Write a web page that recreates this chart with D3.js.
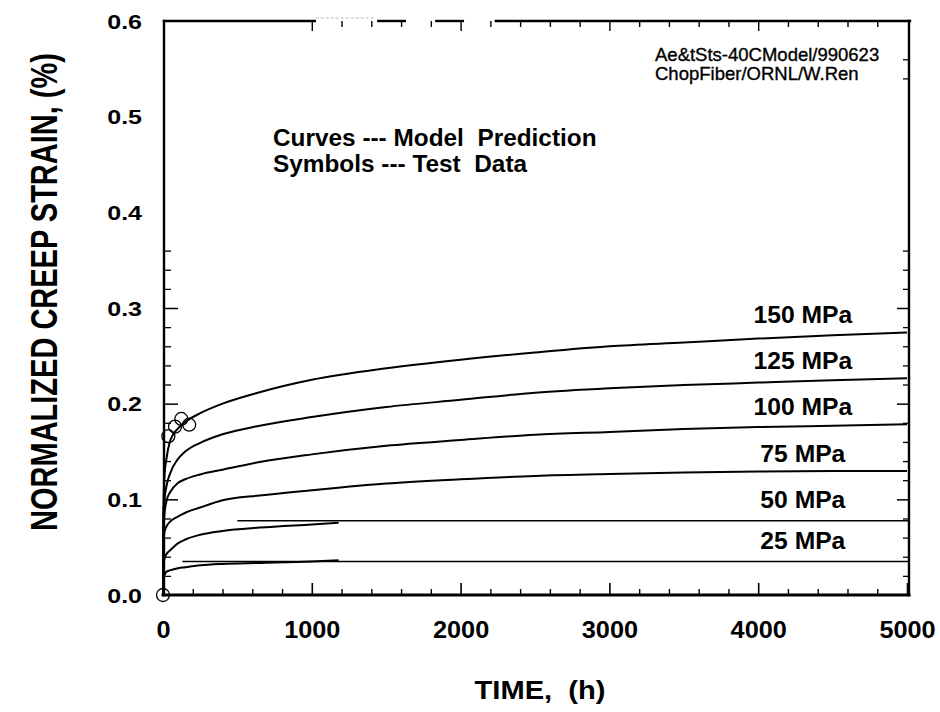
<!DOCTYPE html>
<html>
<head>
<meta charset="utf-8">
<script src="https://cdn.jsdelivr.net/npm/d3@7"></script>
<style>
  html, body { margin: 0; padding: 0; background: #fff; }
  svg { display: block; }
  text { font-family: "Liberation Sans", Arial, Helvetica, sans-serif; fill: #000; }
</style>
</head>
<body>
<svg id="chart" width="940" height="712"></svg>
<script>
// ---------------- DATA ----------------
const seriesNames = ["150 MPa", "125 MPa", "100 MPa", "75 MPa", "50 MPa", "25 MPa"];

// model-prediction curves (time in h, normalized creep strain in %)
const timesLong  = [0, 3, 10, 25, 50, 100, 150, 250, 400, 650, 1000, 1500, 2000, 2500, 3000, 3500, 4000, 4500, 5000];
const timesShort = [0, 3, 10, 25, 50, 100, 150, 250, 400, 650, 1000, 1180];

const strain150 = [0, 0.090, 0.125, 0.144, 0.162, 0.174, 0.181, 0.190, 0.200, 0.212, 0.225, 0.237, 0.246, 0.2535, 0.2600, 0.2640, 0.2680, 0.2715, 0.2745];
const strain125 = [0, 0.085, 0.100, 0.115, 0.128, 0.142, 0.150, 0.159, 0.168, 0.177, 0.186, 0.1965, 0.204, 0.2115, 0.2162, 0.2195, 0.2220, 0.2245, 0.2265];
const strain100 = [0, 0.070, 0.085, 0.099, 0.108, 0.117, 0.121, 0.126, 0.131, 0.139, 0.147, 0.156, 0.162, 0.1675, 0.1705, 0.1735, 0.1755, 0.1770, 0.1785];
const strain75  = [0, 0.055, 0.066, 0.072, 0.077, 0.082, 0.086, 0.0915, 0.099, 0.104, 0.1095, 0.1165, 0.121, 0.1245, 0.1265, 0.1280, 0.1290, 0.1295, 0.1297];
const strain50  = [0, 0.030, 0.038, 0.043, 0.047, 0.054, 0.058, 0.063, 0.067, 0.0705, 0.0738, 0.0755];
const strain25  = [0, 0.015, 0.021, 0.0245, 0.026, 0.028, 0.029, 0.031, 0.0325, 0.0335, 0.0350, 0.0362];

// straight extension lines drawn for the two lowest stresses
const plateauNames  = ["50 MPa", "25 MPa"];
const plateauLevels = [0.0776, 0.0350];
const plateauStart  = [500, 130];
const plateauEnd    = [5000, 5000];

// test data (symbols)
const testTimes  = [0, 36, 81, 123, 176];
const testStrain = [0, 0.166, 0.176, 0.184, 0.178];

// axis ticks
const xTickValues = [0, 1000, 2000, 3000, 4000, 5000];
const xTickLabels = ["0", "1000", "2000", "3000", "4000", "5000"];
const yTickValues = [0, 0.1, 0.2, 0.3, 0.4, 0.5, 0.6];
const yTickLabels = ["0.0", "0.1", "0.2", "0.3", "0.4", "0.5", "0.6"];

// top border segments (in hours) – the scanned frame is broken there
const topFrameSegments = [[0, 1020], [1440, 1625], [1830, 2015], [2230, 5000]];

// ---------------- SCALES ----------------
const svg = d3.select("#chart");
const x = d3.scaleLinear().domain([0, 5000]).range([163, 907]);
const y = d3.scaleLinear().domain([0, 0.6]).range([595, 21]);

const series = [
  { name: seriesNames[0], t: timesLong,  v: strain150 },
  { name: seriesNames[1], t: timesLong,  v: strain125 },
  { name: seriesNames[2], t: timesLong,  v: strain100 },
  { name: seriesNames[3], t: timesLong,  v: strain75  },
  { name: seriesNames[4], t: timesShort, v: strain50  },
  { name: seriesNames[5], t: timesShort, v: strain25  }
];

// ---------------- FRAME ----------------
const frame = svg.append("g").attr("stroke", "#000").attr("fill", "none").attr("stroke-linecap", "square");
frame.append("line").attr("x1", x(0)).attr("x2", x(5000) + 2).attr("y1", y(0)).attr("y2", y(0)).attr("stroke-width", 3);
frame.append("line").attr("x1", x(0) + 1).attr("x2", x(0) + 1).attr("y1", y(0.6)).attr("y2", y(0)).attr("stroke-width", 2.4);
frame.append("line").attr("x1", x(5000) + 2).attr("x2", x(5000) + 2).attr("y1", y(0.6)).attr("y2", y(0)).attr("stroke-width", 2.4);
topFrameSegments.forEach(s => {
  frame.append("line").attr("x1", x(s[0]) + 1).attr("x2", s[1] >= 5000 ? x(5000) + 3 : x(s[1]))
    .attr("y1", y(0.6)).attr("y2", y(0.6)).attr("stroke-width", 2.4);
});
frame.append("line").attr("x1", x(1030)).attr("x2", x(1430)).attr("y1", y(0.6) - 3).attr("y2", y(0.6) - 3)
  .attr("stroke", "#bbb").attr("stroke-width", 1).attr("stroke-dasharray", "2,3");

// ---------------- AXES / TICKS ----------------
const minorX = d3.range(1, 25).map(i => i * 200).filter(v => v % 1000 !== 0);
const minorY = d3.range(1, 19).map(i => +(i * 0.02).toFixed(2)).filter(v => Math.round(v * 100) % 10 !== 0);

const axB = svg.append("g").attr("transform", `translate(0,${y(0)})`)
  .call(d3.axisBottom(x).tickValues(xTickValues).tickSize(-12).tickSizeOuter(0)
    .tickFormat((d, i) => xTickLabels[i]));
axB.select(".domain").remove();
axB.selectAll("line").attr("stroke", "#000").attr("stroke-width", 1.6);
axB.selectAll("text")
  .attr("y", null).attr("dy", null)
  .attr("transform", "translate(0,43) scale(1.1,1)")
  .style("font-size", "23px").style("font-weight", "bold");

const axBm = svg.append("g").attr("transform", `translate(0,${y(0)})`)
  .call(d3.axisBottom(x).tickValues(minorX).tickSize(-6).tickSizeOuter(0).tickFormat(""));
axBm.select(".domain").remove();
axBm.selectAll("line").attr("stroke", "#000").attr("stroke-width", 1.4);

const axT = svg.append("g").attr("transform", `translate(0,${y(0.6)})`)
  .call(d3.axisTop(x).tickValues(d3.range(5, 25).map(i => i * 200)).tickSizeOuter(0).tickFormat("")
    .tickSizeInner(-6));
axT.select(".domain").remove();
axT.selectAll("line").attr("stroke", "#000").attr("stroke-width", 1.4)
  .attr("y2", d => (d % 1000 === 0 ? 10 : 6));

const axL = svg.append("g").attr("transform", `translate(${x(0) + 1},0)`)
  .call(d3.axisLeft(y).tickValues(yTickValues).tickSize(0).tickSizeOuter(0)
    .tickFormat((d, i) => yTickLabels[i]));
axL.select(".domain").remove();
axL.selectAll("text")
  .attr("x", null).attr("dy", "0.36em")
  .attr("transform", "translate(-22,0) scale(1.25,1)")
  .style("font-size", "20px").style("font-weight", "bold").attr("text-anchor", "end");
axL.selectAll("line").remove();

const axLt = svg.append("g").attr("transform", `translate(${x(0) + 1},0)`)
  .call(d3.axisRight(y).tickValues([0.1, 0.2, 0.3]).tickSize(14).tickSizeOuter(0).tickFormat(""));
axLt.select(".domain").remove();
axLt.selectAll("line").attr("stroke", "#000").attr("stroke-width", 1.5);
const axLm = svg.append("g").attr("transform", `translate(${x(0) + 1},0)`)
  .call(d3.axisRight(y).tickValues(minorY).tickSize(7).tickSizeOuter(0).tickFormat(""));
axLm.select(".domain").remove();
axLm.selectAll("line").attr("stroke", "#000").attr("stroke-width", 1.3);

const axR = svg.append("g").attr("transform", `translate(${x(5000) + 2},0)`)
  .call(d3.axisLeft(y).tickValues([0.1, 0.2, 0.3]).tickSize(12).tickSizeOuter(0).tickFormat(""));
axR.select(".domain").remove();
axR.selectAll("line").attr("stroke", "#000").attr("stroke-width", 1.5);
const axRm = svg.append("g").attr("transform", `translate(${x(5000) + 2},0)`)
  .call(d3.axisLeft(y).tickValues(minorY.concat([0.54, 0.56])).tickSize(6).tickSizeOuter(0).tickFormat(""));
axRm.select(".domain").remove();
axRm.selectAll("line").attr("stroke", "#000").attr("stroke-width", 1.3);

// ---------------- CURVES ----------------
const line = d3.line().x(d => x(d[0])).y(d => y(d[1])).curve(d3.curveMonotoneX);
svg.append("g").selectAll("path").data(series).join("path")
  .attr("d", s => line(s.t.map((t, i) => [t, s.v[i]])))
  .attr("fill", "none").attr("stroke", "#000").attr("stroke-width", 2);

svg.append("g").selectAll("line").data(plateauLevels).join("line")
  .attr("x1", (d, i) => x(plateauStart[i])).attr("x2", (d, i) => x(plateauEnd[i]) + 2)
  .attr("y1", d => y(d)).attr("y2", d => y(d))
  .attr("stroke", "#000").attr("stroke-width", 1.4);

svg.append("g").selectAll("circle").data(testTimes).join("circle")
  .attr("cx", d => x(d)).attr("cy", (d, i) => y(testStrain[i])).attr("r", 6.5)
  .attr("fill", "none").attr("stroke", "#000").attr("stroke-width", 1.3);

// ---------------- LABELS ----------------
const labelEnd = series.map(s => {
  const pi = plateauNames.indexOf(s.name);
  return pi >= 0 ? { v: plateauLevels[pi], off: 13 } : { v: s.v[s.v.length - 1], off: 9 };
});
svg.append("g").selectAll("text").data(series).join("text")
  .attr("transform", (s, i) => `translate(${x(4300)},${y(labelEnd[i].v) - labelEnd[i].off}) scale(1.05,1)`)
  .attr("text-anchor", "middle")
  .style("font-size", "23.5px").style("font-weight", "bold")
  .text(s => s.name);

// legend text
svg.append("text").attr("transform", "translate(273,146) scale(1.06,1)")
  .style("font-size", "23px").style("font-weight", "bold").style("white-space", "pre")
  .text("Curves --- Model  Prediction");
svg.append("text").attr("transform", "translate(273,172) scale(1.06,1)")
  .style("font-size", "23px").style("font-weight", "bold").style("white-space", "pre")
  .text("Symbols --- Test  Data");

// annotation
svg.append("text").attr("x", 655).attr("y", 60.5)
  .style("font-size", "18.5px").attr("stroke", "#000").attr("stroke-width", 0.35)
  .text("Ae&tSts-40CModel/990623");
svg.append("text").attr("x", 655).attr("y", 80)
  .style("font-size", "18.5px").attr("stroke", "#000").attr("stroke-width", 0.35)
  .text("ChopFiber/ORNL/W.Ren");

// axis titles
svg.append("text")
  .attr("transform", `translate(57,292) scale(1.25,1) rotate(-90)`)
  .attr("text-anchor", "middle")
  .style("font-size", "29px").style("font-weight", "bold")
  .text("NORMALIZED CREEP STRAIN, (%)");

svg.append("text")
  .attr("transform", `translate(540,699) scale(1.12,1)`)
  .attr("text-anchor", "middle")
  .style("font-size", "26px").style("font-weight", "bold").style("white-space", "pre")
  .text("TIME,  (h)");
</script>
</body>
</html>
